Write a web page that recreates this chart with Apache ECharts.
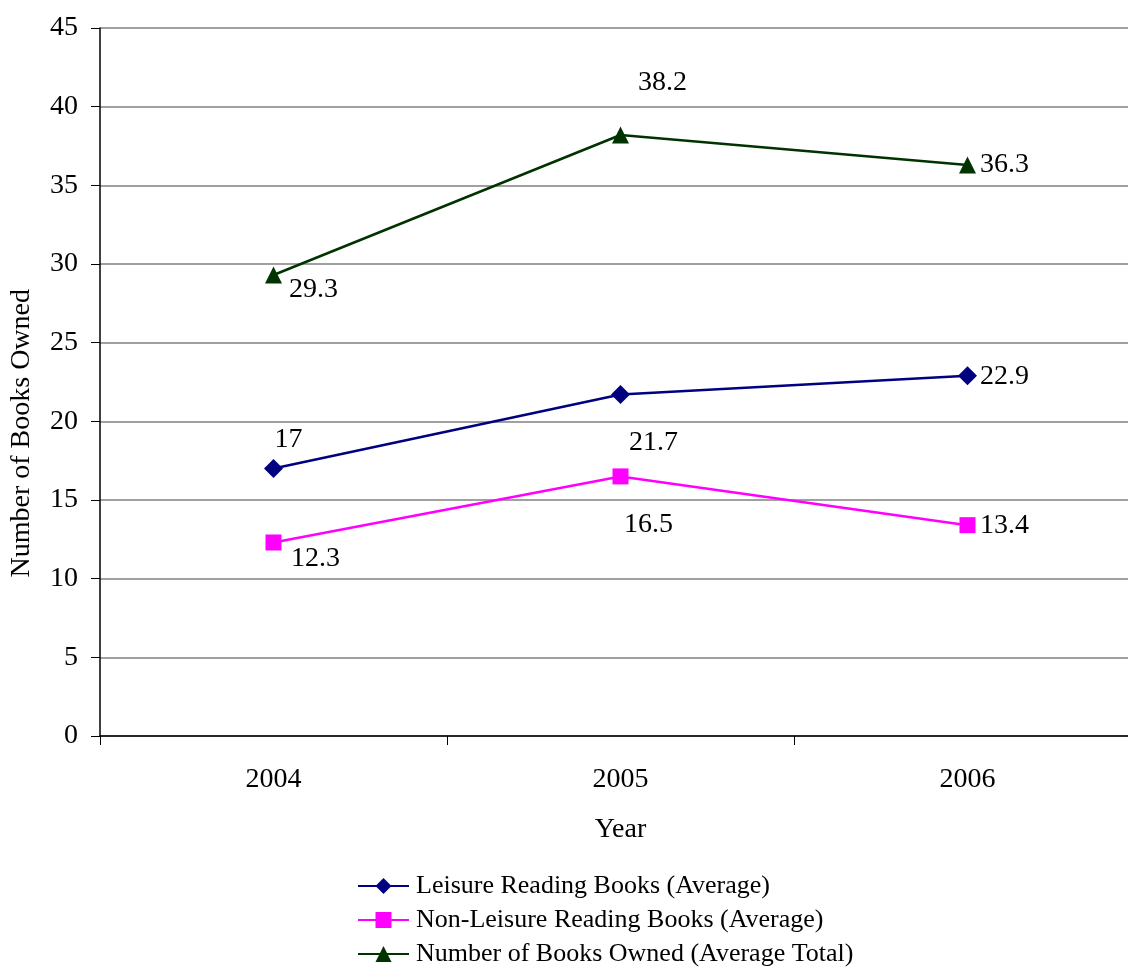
<!DOCTYPE html>
<html>
<head>
<meta charset="utf-8">
<script src="https://cdn.jsdelivr.net/npm/echarts@6/dist/echarts.min.js"></script>
<style>html,body{margin:0;padding:0;background:#fff;overflow:hidden;width:1128px;height:968px;}#c{width:1141px;height:968px;}</style>
</head>
<body>
<div id="c"></div>
<script>
const years = ['2004', '2005', '2006'];
const leisure = [17, 21.7, 22.9];
const nonLeisure = [12.3, 16.5, 13.4];
const total = [29.3, 38.2, 36.3];
const seriesNames = ['Leisure Reading Books (Average)', 'Non-Leisure Reading Books (Average)', 'Number of Books Owned (Average Total)'];
const yTicks = [0, 5, 10, 15, 20, 25, 30, 35, 40, 45];

// label offsets (layout only)
const leisureOff = [[15, -29], [33, 48], [37, 1]];
const nonLeisureOff = [[42, 16], [28, 48], [37, 0]];
const totalOff = [[40, 15], [42, -52], [37, 0]];

const FONT = '"Liberation Serif", "Times New Roman", serif';
const FS = 28;

function mkData(vals, offs) {
  return vals.map((v, i) => ({
    value: v,
    label: { offset: offs[i] }
  }));
}

function mkSeries(name, vals, offs, color, symbol, size) {
  return {
    name: name,
    type: 'line',
    data: mkData(vals, offs),
    symbol: symbol,
    symbolSize: size,
    showAllSymbol: true,
    lineStyle: { color: color, width: 2.5 },
    itemStyle: { color: color },
    label: {
      show: true,
      position: 'inside',
      fontFamily: FONT,
      fontSize: FS,
      color: '#000',
      align: 'center',
      verticalAlign: 'middle'
    },
    emphasis: { disabled: true },
    animation: false
  };
}

function mkLegend(name, top) {
  return {
    orient: 'horizontal',
    left: 357,
    top: top,
    padding: 0,
    itemWidth: 51,
    itemHeight: 20,
    textStyle: { fontFamily: FONT, fontSize: 26, color: '#000', padding: [0, 0, 0, 2] },
    data: [{ name: name }]
  };
}

const chart = echarts.init(document.getElementById('c'), null, { renderer: 'canvas' });
chart.setOption({
  animation: false,
  backgroundColor: '#fff',
  grid: { left: 100, top: 28, right: 0, bottom: 232, containLabel: false },
  legend: [
    mkLegend(seriesNames[0], 873),
    mkLegend(seriesNames[1], 907),
    mkLegend(seriesNames[2], 941)
  ],
  xAxis: {
    type: 'category',
    data: years,
    boundaryGap: true,
    axisLine: { lineStyle: { color: '#000', width: 1.5 } },
    axisTick: { show: true, inside: false, length: 9, lineStyle: { color: '#000' }, alignWithLabel: false },
    axisLabel: { fontFamily: FONT, fontSize: FS, color: '#000', margin: 30 },
    splitLine: { show: false },
    name: 'Year',
    nameLocation: 'middle',
    nameGap: 80,
    nameTextStyle: { fontFamily: FONT, fontSize: 28, color: '#000', verticalAlign: 'top' }
  },
  yAxis: {
    type: 'value',
    min: yTicks[0],
    max: yTicks[yTicks.length - 1],
    interval: 5,
    axisLine: { show: true, lineStyle: { color: '#000', width: 1.5 } },
    axisTick: { show: true, inside: false, length: 9, lineStyle: { color: '#000' } },
    axisLabel: { fontFamily: FONT, fontSize: FS, color: '#000', margin: 22 },
    splitLine: { show: true, lineStyle: { color: '#808080', width: 1.5 } }
  },
  graphic: [{
    type: 'text',
    left: 8,
    top: 289,
    rotation: Math.PI / 2,
    style: { text: 'Number of Books Owned', font: '28px ' + FONT, fill: '#000' }
  }],
  series: [
    mkSeries(seriesNames[0], leisure, leisureOff, '#000080', 'diamond', 19),
    mkSeries(seriesNames[1], nonLeisure, nonLeisureOff, '#FF00FF', 'rect', 16),
    mkSeries(seriesNames[2], total, totalOff, '#003300', 'triangle', 17)
  ]
});
</script>
</body>
</html>
